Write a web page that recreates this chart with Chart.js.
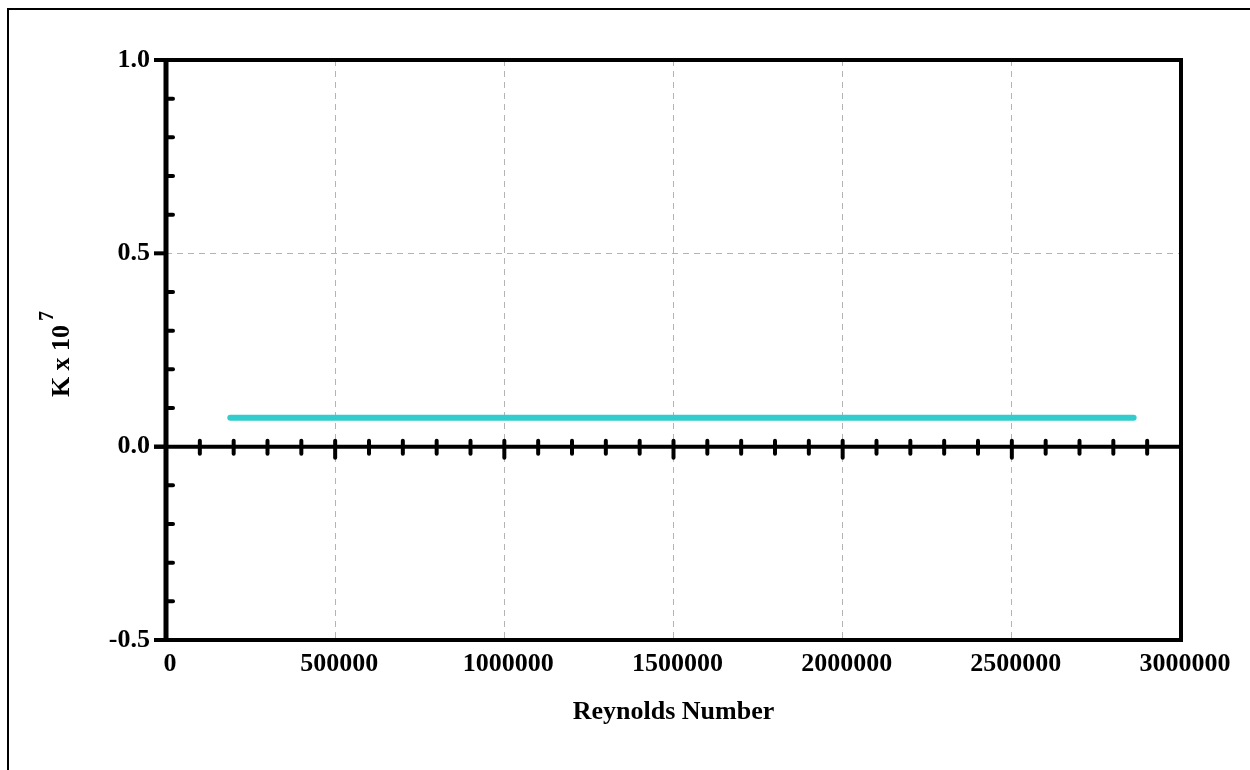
<!DOCTYPE html>
<html>
<head>
<meta charset="utf-8">
<title>K x 10^7 vs Reynolds Number</title>
<script src="https://cdn.jsdelivr.net/npm/chart.js@4.4.1/dist/chart.umd.min.js"></script>
<style>
  html, body { margin: 0; padding: 0; background: #ffffff; }
  #wrap { position: relative; width: 1250px; height: 770px; }
  canvas { display: block; }
</style>
</head>
<body>
<div id="wrap"><canvas id="chart" width="1250" height="770"></canvas></div>
<script>
// Reynolds numbers and the measured coefficient K (scaled by 10^7)
const reynolds = [190000, 1350000, 1680000, 2680000, 2860000];
const kValues = [0.075, 0.075, 0.075, 0.075, 0.075];

// Axis ranges and steps
const xMin = 0, xMax = 3000000, xMajor = 500000, xMinor = 100000;
const yMin = -0.5, yMax = 1.0, yMajor = 0.5, yMinor = 0.1;

const FONT = "'Liberation Serif', 'Times New Roman', serif";

// Frame, axis line through zero, tick marks and the rotated y title
const axesDecor = {
  id: 'axesDecor',
  beforeDraw(chart) {
    const ctx = chart.ctx;
    ctx.save();
    ctx.fillStyle = '#ffffff';
    ctx.fillRect(0, 0, chart.width, chart.height);
    ctx.strokeStyle = '#000';
    ctx.lineWidth = 2;
    ctx.beginPath();
    ctx.moveTo(8, chart.height);
    ctx.lineTo(8, 9);
    ctx.lineTo(chart.width, 9);
    ctx.stroke();
    ctx.restore();
  },
  afterDraw(chart) {
    const ctx = chart.ctx;
    const a = chart.chartArea;
    const xs = chart.scales.x, ys = chart.scales.y;
    ctx.save();
    ctx.strokeStyle = '#000';

    // minor ticks on the left axis, pointing inward
    ctx.lineWidth = 4;
    ctx.lineCap = 'round';
    for (let i = 1; i < Math.round((yMax - yMin) / yMinor); i++) {
      const v = yMin + i * yMinor;
      if (Math.abs(v / yMajor - Math.round(v / yMajor)) < 1e-6) continue;
      const py = ys.getPixelForValue(v);
      ctx.beginPath();
      ctx.moveTo(a.left, py);
      ctx.lineTo(a.left + 7, py);
      ctx.stroke();
    }

    // major ticks on the left axis, pointing outward
    ctx.lineCap = 'butt';
    for (let v = yMin; v <= yMax + 1e-9; v += yMajor) {
      const py = ys.getPixelForValue(v);
      ctx.beginPath();
      ctx.moveTo(a.left - 12, py);
      ctx.lineTo(a.left, py);
      ctx.stroke();
    }

    // horizontal axis through K = 0
    const y0 = ys.getPixelForValue(0);
    ctx.lineWidth = 4;
    ctx.beginPath();
    ctx.moveTo(a.left - 12, y0);
    ctx.lineTo(a.right, y0);
    ctx.stroke();

    // crossing ticks along the zero line
    ctx.lineCap = 'round';
    for (let v = xMinor; v < xMax; v += xMinor) {
      const px = xs.getPixelForValue(v);
      const major = v % xMajor === 0;
      ctx.beginPath();
      ctx.moveTo(px, y0 - 6);
      ctx.lineTo(px, y0 + (major ? 11 : 7));
      ctx.stroke();
    }

    // plot frame
    ctx.lineCap = 'butt';
    ctx.lineWidth = 4;
    ctx.strokeRect(a.left, a.top, a.right - a.left, a.bottom - a.top);
    ctx.lineWidth = 5;
    ctx.beginPath();
    ctx.moveTo(a.left, a.top - 2);
    ctx.lineTo(a.left, a.bottom + 2);
    ctx.stroke();

    // y title: K x 10 with superscript 7
    ctx.fillStyle = '#000';
    ctx.translate(58, 354);
    ctx.rotate(-Math.PI / 2);
    const main = 'K x 10', sup = '7';
    ctx.font = 'bold 26px ' + FONT;
    const wMain = ctx.measureText(main).width;
    ctx.font = 'bold 20px ' + FONT;
    const wSup = ctx.measureText(sup).width;
    const gap = 4;
    const start = -(wMain + wSup + gap) / 2;
    ctx.textBaseline = 'alphabetic';
    ctx.textAlign = 'left';
    ctx.font = 'bold 26px ' + FONT;
    ctx.fillText(main, start, 11);
    ctx.font = 'bold 20px ' + FONT;
    ctx.fillText(sup, start + wMain + gap, -5);
    ctx.restore();
  }
};

new Chart(document.getElementById('chart'), {
  type: 'line',
  data: {
    datasets: [{
      data: reynolds.map((r, i) => ({ x: r, y: kValues[i] })),
      borderColor: '#33CCCC',
      borderWidth: 6,
      borderCapStyle: 'round',
      borderJoinStyle: 'round',
      pointRadius: 0,
      fill: false,
      tension: 0
    }]
  },
  options: {
    responsive: false,
    animation: false,
    devicePixelRatio: 1,
    layout: { padding: { left: 0, top: 60, right: 69, bottom: 0 } },
    plugins: { legend: { display: false }, tooltip: { enabled: false } },
    scales: {
      x: {
        type: 'linear',
        min: xMin,
        max: xMax,
        afterFit(s) { s.height = 130; },
        grid: {
          drawTicks: false,
          lineWidth: 1,
          color: c => (c.tick && c.tick.value > xMin && c.tick.value < xMax) ? '#b4b4b4' : 'rgba(0,0,0,0)'
        },
        border: { display: false, dash: [6, 5] },
        ticks: {
          stepSize: xMajor,
          autoSkip: false,
          maxRotation: 0,
          padding: 9,
          labelOffset: 4,
          color: '#000',
          font: { family: FONT, size: 26, weight: 'bold' },
          callback: v => String(v)
        },
        title: {
          display: true,
          text: 'Reynolds Number',
          color: '#000',
          font: { family: FONT, size: 26, weight: 'bold' },
          padding: { top: 0, bottom: 42 }
        }
      },
      y: {
        type: 'linear',
        min: yMin,
        max: yMax,
        afterFit(s) { s.width = 166; },
        grid: {
          drawTicks: false,
          lineWidth: 1,
          color: c => (c.tick && Math.abs(c.tick.value - 0.5) < 1e-9) ? '#b4b4b4' : 'rgba(0,0,0,0)'
        },
        border: { display: false, dash: [6, 5] },
        ticks: {
          stepSize: yMajor,
          padding: 16,
          color: '#000',
          font: { family: FONT, size: 26, weight: 'bold' },
          callback: v => Number(v).toFixed(1)
        }
      }
    }
  },
  plugins: [axesDecor]
});
</script>
</body>
</html>
